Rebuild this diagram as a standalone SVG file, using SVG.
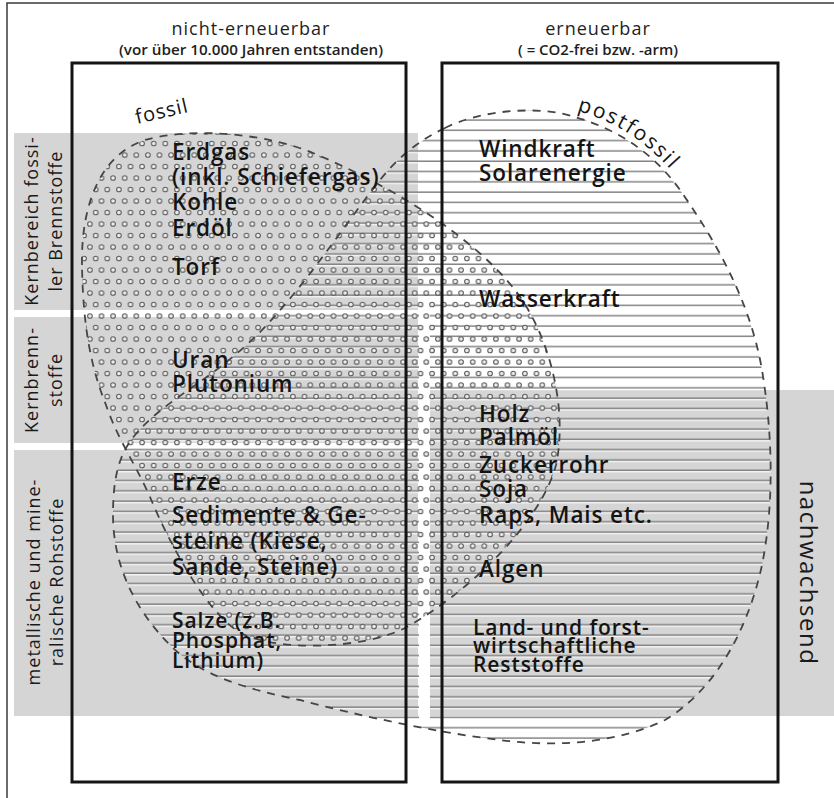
<svg xmlns="http://www.w3.org/2000/svg" width="834" height="798" viewBox="0 0 834 798">
<style>
.t{font-family:"Open Sans","Liberation Sans",sans-serif;font-size:22.5px;font-weight:600;fill:#141414;letter-spacing:0.9px}
.tt{font-size:21px;letter-spacing:0.9px}
.lab{font-family:"Open Sans","Liberation Sans",sans-serif;font-size:18px;font-weight:500;fill:#1a1a1a;letter-spacing:1px;text-anchor:middle}
.hd{font-family:"Open Sans","Liberation Sans",sans-serif;font-size:18px;fill:#1e1e1e;letter-spacing:1px;text-anchor:middle}
.sub{font-family:"Open Sans","Liberation Sans",sans-serif;font-size:13.5px;font-weight:600;fill:#1e1e1e;text-anchor:middle}
.band{fill:#d5d5d5}
.outline{fill:none;stroke:#454545;stroke-width:1.8;stroke-dasharray:8 7}
.frame{fill:none;stroke:#141414;stroke-width:3}
</style>
<defs>
<pattern id="hatch" patternUnits="userSpaceOnUse" x="0" y="0" width="20" height="10.3">
<rect x="0" y="6" width="20" height="1.5" fill="#858585"/>
<rect x="0" y="7.6" width="20" height="1.3" fill="#ffffff" opacity="0.8"/>
</pattern>
<pattern id="dots" patternUnits="userSpaceOnUse" x="0" y="0" width="11.6" height="23">
<circle cx="2.9" cy="5.5" r="2.3" fill="#eeeeee" stroke="#5e5e5e" stroke-width="1.1"/>
<circle cx="8.7" cy="17" r="2.3" fill="#eeeeee" stroke="#5e5e5e" stroke-width="1.1"/>
</pattern>
</defs>
<rect x="0" y="0" width="834" height="798" fill="#ffffff"/>
<path d="M7,798 V3 H834" fill="none" stroke="#3a3a3a" stroke-width="1.5"/>

<g id="bands">
<rect class="band" x="14" y="133" width="404" height="177"/>
<rect class="band" x="14" y="317" width="404" height="126"/>
<rect class="band" x="14" y="450" width="404" height="266"/>
<rect class="band" x="430" y="390" width="404" height="326"/>
</g>

<g id="postfossil">
<path d="M445,128 C480,110 540,105 575,117 C620,130 655,155 680,190 C715,240 750,300 762,370 C772,430 775,500 762,565 C748,630 715,690 665,720 C620,742 560,748 500,740 C440,733 360,716 300,700 C250,690 200,676 170,645 C135,610 113,565 113,515 C113,480 118,455 135,435 C160,405 200,385 235,355 C290,310 340,230 380,180 C400,155 420,140 445,128 Z" fill="url(#hatch)"/>
</g>
<rect x="419" y="300" width="11" height="422" fill="#ffffff"/>

<g id="fossil">
<path d="M82,265 C81,205 100,155 145,140 C190,127 265,133 313,153 C385,183 470,233 515,290 C550,335 568,410 556,465 C540,525 465,595 405,628 C365,648 285,652 245,635 C210,620 170,545 150,497 C136,465 118,440 106,405 C92,370 83,330 82,265 Z" fill="url(#dots)"/>
</g>

<g id="outlines">
<path class="outline" d="M445,128 C480,110 540,105 575,117 C620,130 655,155 680,190 C715,240 750,300 762,370 C772,430 775,500 762,565 C748,630 715,690 665,720 C620,742 560,748 500,740 C440,733 360,716 300,700 C250,690 200,676 170,645 C135,610 113,565 113,515 C113,480 118,455 135,435 C160,405 200,385 235,355 C290,310 340,230 380,180 C400,155 420,140 445,128 Z"/>
<path class="outline" d="M82,265 C81,205 100,155 145,140 C190,127 265,133 313,153 C385,183 470,233 515,290 C550,335 568,410 556,465 C540,525 465,595 405,628 C365,648 285,652 245,635 C210,620 170,545 150,497 C136,465 118,440 106,405 C92,370 83,330 82,265 Z"/>
</g>

<g id="frames">
<rect class="frame" x="72" y="63" width="334" height="719"/>
<rect class="frame" x="442" y="63" width="336" height="719"/>
</g>

<g id="headers">
<text class="hd" x="251" y="35">nicht-erneuerbar</text>
<text class="sub" x="251" y="55" textLength="264" lengthAdjust="spacingAndGlyphs">(vor über 10.000 Jahren entstanden)</text>
<text class="hd" x="598" y="35">erneuerbar</text>
<text class="sub" x="598" y="55" textLength="160" lengthAdjust="spacingAndGlyphs">( = CO2-frei bzw. -arm)</text>
</g>

<g id="blob-labels">
<text class="t" transform="translate(137,124) rotate(-13)" style="font-size:20px;font-weight:400;letter-spacing:1px">fossil</text>
<path id="pfpath" d="M577,111 C615,121 650,142 684,186" fill="none"/>
<text class="t" style="font-size:21px;font-weight:400;letter-spacing:2px"><textPath href="#pfpath">postfossil</textPath></text>
</g>

<g id="side-labels">
<g transform="translate(0,221) rotate(-90)">
<text class="lab" x="0" y="38">Kernbereich fossi-</text>
<text class="lab" x="0" y="62">ler Brennstoffe</text>
</g>
<g transform="translate(0,380) rotate(-90)">
<text class="lab" x="0" y="38">Kernbrenn-</text>
<text class="lab" x="0" y="62">stoffe</text>
</g>
<g transform="translate(0,582) rotate(-90)">
<text class="lab" x="0" y="40">metallische und mine-</text>
<text class="lab" x="0" y="63">ralische Rohstoffe</text>
</g>
<text class="lab" transform="translate(800,573) rotate(90)" style="font-size:24px;letter-spacing:1.5px">nachwachsend</text>
</g>

<g id="left-items">
<text class="t" x="172" y="160">Erdgas</text>
<text class="t" x="172" y="185">(inkl. Schiefergas)</text>
<text class="t" x="172" y="210">Kohle</text>
<text class="t" x="172" y="236">Erdöl</text>
<text class="t" x="172" y="275">Torf</text>
<text class="t" x="172" y="368">Uran</text>
<text class="t" x="172" y="392">Plutonium</text>
<text class="t" x="172" y="490">Erze</text>
<text class="t" x="172" y="523">Sedimente &amp; Ge-</text>
<text class="t" x="172" y="549">steine (Kiese,</text>
<text class="t" x="172" y="575">Sande, Steine)</text>
<text class="t tt" x="172" y="628">Salze (z.B.</text>
<text class="t tt" x="172" y="648">Phosphat,</text>
<text class="t tt" x="172" y="668">Lithium)</text>
</g>

<g id="right-items">
<text class="t" x="479" y="157">Windkraft</text>
<text class="t" x="479" y="181">Solarenergie</text>
<text class="t" x="479" y="307">Wasserkraft</text>
<text class="t" x="479" y="422">Holz</text>
<text class="t" x="479" y="445">Palmöl</text>
<text class="t" x="479" y="473">Zuckerrohr</text>
<text class="t" x="479" y="497">Soja</text>
<text class="t" x="479" y="523">Raps, Mais etc.</text>
<text class="t" x="479" y="577">Algen</text>
<text class="t tt" x="473" y="635">Land- und forst-</text>
<text class="t tt" x="473" y="653">wirtschaftliche</text>
<text class="t tt" x="473" y="672">Reststoffe</text>
</g>
</svg>
